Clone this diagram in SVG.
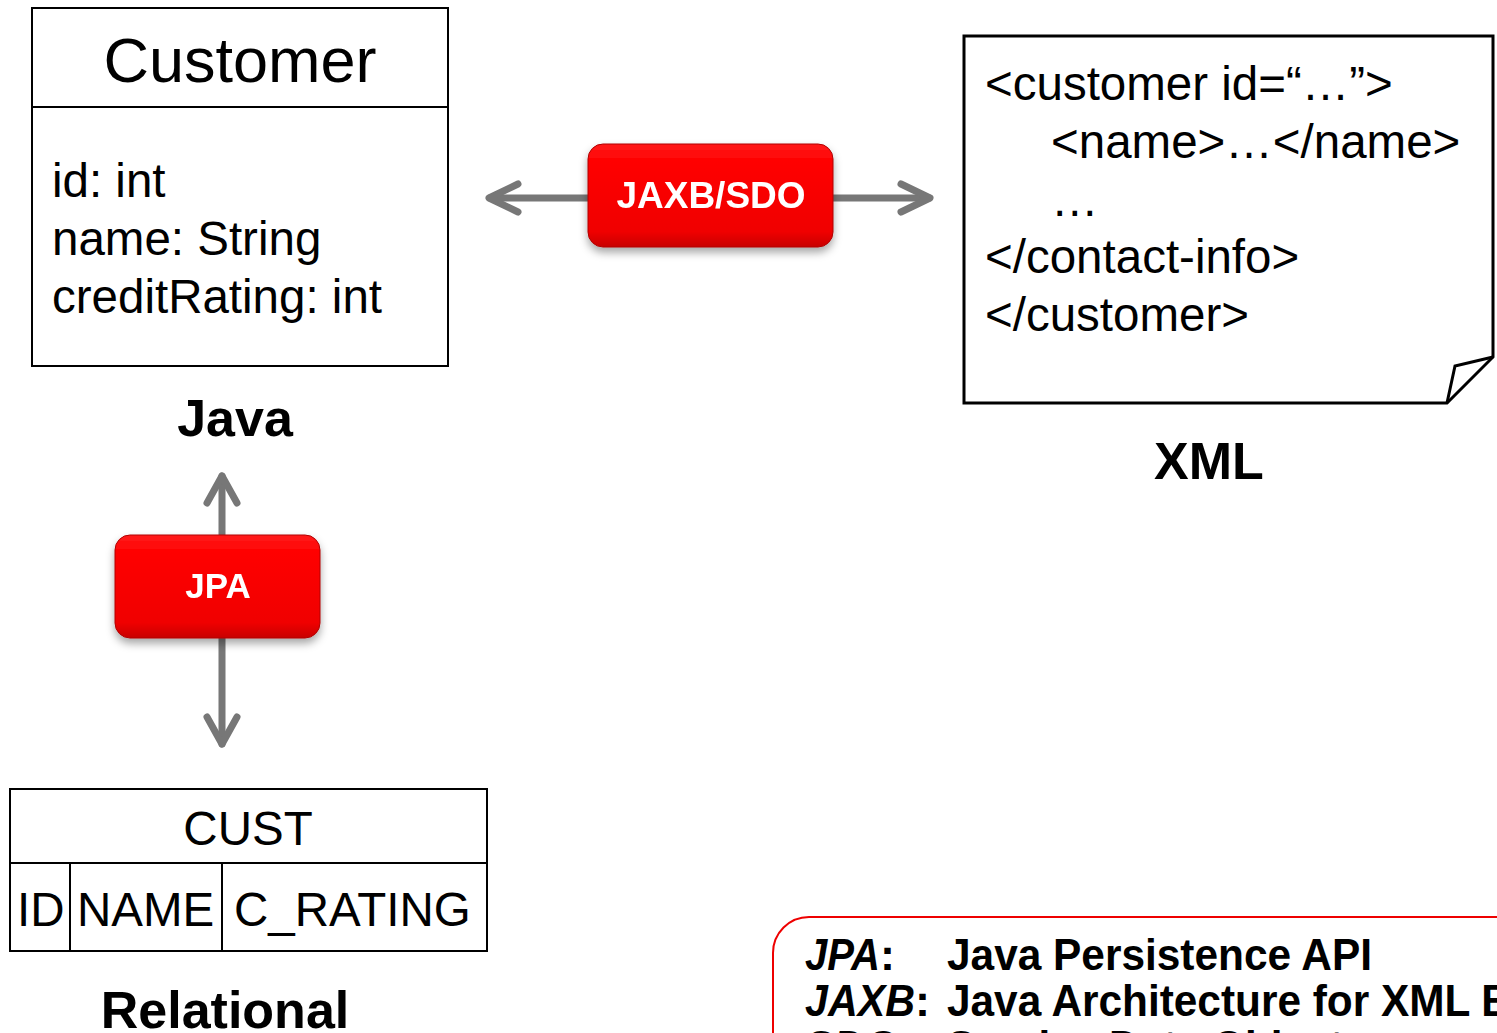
<svg xmlns="http://www.w3.org/2000/svg" width="1497" height="1033" viewBox="0 0 1497 1033">
  <style>
    .box { fill: #ffffff; stroke: #000000; stroke-width: 2; }
    .txt { font-family: "Liberation Sans", Arial, sans-serif; fill: #000000; }
    .big { font-size: 47.5px; }
    .head { font-size: 52px; font-weight: bold; }
    .btn-text { font-family: "Liberation Sans", Arial, sans-serif; font-weight: bold; fill: #ffffff; text-anchor: middle; }
    .conn { stroke: #777777; stroke-width: 7; fill: none; stroke-linecap: round; stroke-linejoin: round; }
    .legend { font-family: "Liberation Sans", Arial, sans-serif; font-weight: bold; font-size: 45px; fill: #000000; }
  </style>
  <defs>
    <linearGradient id="btnFill" x1="0" y1="0" x2="0" y2="1">
      <stop offset="0" stop-color="#ff1a1a"/>
      <stop offset="0.15" stop-color="#ff0505"/>
      <stop offset="0.85" stop-color="#f00000"/>
      <stop offset="1" stop-color="#c80000"/>
    </linearGradient>
    <filter id="btnShadow" x="-20%" y="-20%" width="140%" height="150%">
      <feDropShadow dx="0" dy="5" stdDeviation="4" flood-color="#000000" flood-opacity="0.35"/>
    </filter>
  </defs>

  <rect width="1497" height="1033" fill="#ffffff"/>

  <!-- connectors -->
  <g id="connectors">
    <line class="conn" x1="490" y1="198" x2="590" y2="198"/>
    <polyline class="conn" points="518,184 489,198 518,212"/>
    <line class="conn" x1="830" y1="198" x2="929" y2="198"/>
    <polyline class="conn" points="901,184 930,198 901,212"/>
    <line class="conn" x1="222" y1="476" x2="222" y2="538"/>
    <polyline class="conn" points="207,503 222,476 237,503"/>
    <line class="conn" x1="222" y1="635" x2="222" y2="744"/>
    <polyline class="conn" points="207,717 222,744 237,717"/>
  </g>

  <!-- Java class -->
  <g id="java-class">
    <rect class="box" x="32" y="8" width="416" height="358"/>
    <line x1="32" y1="107" x2="448" y2="107" stroke="#000" stroke-width="2"/>
    <text class="txt" x="240" y="82" font-size="63" text-anchor="middle">Customer</text>
    <text class="txt big" x="52" y="197">id: int</text>
    <text class="txt big" x="52" y="255">name: String</text>
    <text class="txt big" x="52" y="313">creditRating: int</text>
  </g>
  <g id="java-label">
    <text class="txt head" x="235" y="436" text-anchor="middle">Java</text>
  </g>

  <!-- XML document -->
  <g id="xml-doc">
    <path d="M964,36 H1493 V357 L1447,403 H964 Z" fill="#ffffff" stroke="#000" stroke-width="3" stroke-linejoin="miter"/>
    <path d="M1493,357 L1455,366 L1447,403" fill="none" stroke="#000" stroke-width="3"/>
    <text class="txt big" x="985" y="100">&lt;customer id=“…”&gt;</text>
    <text class="txt big" x="1051" y="158">&lt;name&gt;…&lt;/name&gt;</text>
    <text class="txt big" x="1051" y="216">…</text>
    <text class="txt big" x="985" y="273">&lt;/contact-info&gt;</text>
    <text class="txt big" x="985" y="331">&lt;/customer&gt;</text>
  </g>
  <g id="xml-label">
    <text class="txt head" x="1209" y="479" text-anchor="middle">XML</text>
  </g>

  <!-- JAXB/SDO mapping -->
  <g id="jaxb-sdo" filter="url(#btnShadow)">
    <rect x="588" y="144" width="245" height="103" rx="15" fill="url(#btnFill)" stroke="#b00000" stroke-width="1"/>
    <text class="btn-text" x="711" y="208" font-size="37">JAXB/SDO</text>
  </g>

  <!-- JPA mapping -->
  <g id="jpa" filter="url(#btnShadow)">
    <rect x="115" y="535" width="205" height="103" rx="15" fill="url(#btnFill)" stroke="#b00000" stroke-width="1"/>
    <text class="btn-text" x="218" y="598" font-size="35">JPA</text>
  </g>

  <!-- Relational table -->
  <g id="cust-table">
    <rect class="box" x="10" y="789" width="477" height="162"/>
    <line x1="10" y1="863" x2="487" y2="863" stroke="#000" stroke-width="2"/>
    <line x1="70" y1="863" x2="70" y2="951" stroke="#000" stroke-width="2"/>
    <line x1="222" y1="863" x2="222" y2="951" stroke="#000" stroke-width="2"/>
    <text class="txt big" x="248" y="845" text-anchor="middle">CUST</text>
    <text class="txt big" x="17" y="926">ID</text>
    <text class="txt big" x="77" y="926">NAME</text>
    <text class="txt big" x="234" y="926">C_RATING</text>
  </g>
  <g id="relational-label">
    <text class="txt head" x="225" y="1028" text-anchor="middle">Relational</text>
  </g>

  <!-- Legend -->
  <g id="legend">
    <rect x="773" y="917" width="800" height="200" rx="36" fill="#ffffff" stroke="#ee0000" stroke-width="2"/>
    <text class="legend" y="970"><tspan x="805" font-style="italic" textLength="75" lengthAdjust="spacingAndGlyphs">JPA</tspan><tspan>:</tspan></text>
    <text class="legend" x="947" y="970" textLength="425" lengthAdjust="spacingAndGlyphs">Java Persistence API</text>
    <text class="legend" y="1016"><tspan x="805" font-style="italic" textLength="110" lengthAdjust="spacingAndGlyphs">JAXB</tspan><tspan>:</tspan></text>
    <text class="legend" x="947" y="1016" textLength="692" lengthAdjust="spacingAndGlyphs">Java Architecture for XML Binding</text>
    <text class="legend" y="1062"><tspan x="805" font-style="italic" textLength="92" lengthAdjust="spacingAndGlyphs">SDO</tspan><tspan>:</tspan></text>
    <text class="legend" x="947" y="1062" textLength="420" lengthAdjust="spacingAndGlyphs">Service Data Objects</text>
  </g>
</svg>
